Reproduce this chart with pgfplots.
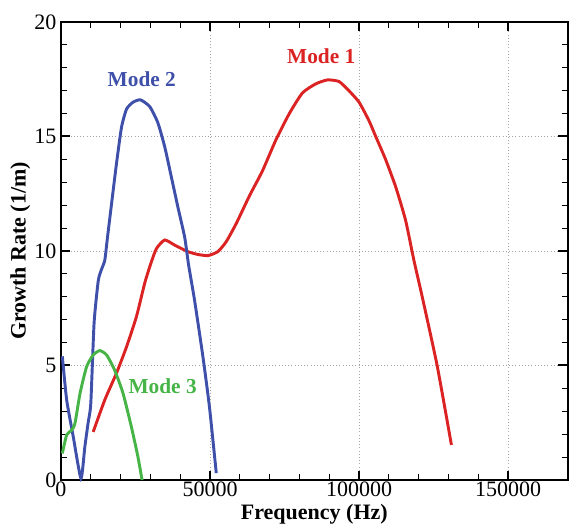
\documentclass[border=0pt]{standalone}
\usepackage{fontspec}
\setmainfont{Liberation Serif}
\usepackage{pgfplots}
\pgfplotsset{compat=1.18}
\definecolor{mred}{RGB}{220,35,35}
\definecolor{mblue}{RGB}{62,80,170}
\definecolor{mgreen}{RGB}{70,180,70}
\begin{document}
\begin{tikzpicture}
\begin{axis}[
  name=ax,
  at={(0,0)}, anchor=south west,
  scale only axis,
  width=380pt, height=343.5pt,
  xmin=0, xmax=170000, ymin=0, ymax=20,
  xtick={0,50000,100000,150000},
  xticklabels={0,50000,100000,150000},
  ytick={0,5,10,15,20},
  yticklabels={0,5,10,15,20},
  minor x tick num=4, minor y tick num=4,
  tick align=inside,
  major tick length=7pt, minor tick length=4.5pt,
  every major tick/.style={line width=1.5pt, black},
  every minor tick/.style={line width=0.6pt, black},
  axis line style={line width=1.5pt},
  grid=major,
  major grid style={gray!70, dotted, line width=0.6pt},
  scaled ticks=false,
  tick label style={font=\fontsize{16.5}{19}\selectfont},
  xticklabel style={yshift=2pt},
  xlabel={\textbf{Frequency (Hz)}},
  ylabel={\textbf{Growth Rate (1/m)}},
  label style={font=\fontsize{16.5}{19}\selectfont},
  xlabel style={at={(axis description cs:0.5,0)}, anchor=base, yshift=-29.5pt, inner sep=0pt},
  ylabel style={at={(axis description cs:-0.0803,0.5)}, anchor=center},
  clip=false,
]
\addplot[mred, line width=2.2pt, smooth, tension=0.35] coordinates {
(10800,2.1) (14700,3.5) (18600,4.66) (22000,5.82) (25300,7.13) (28100,8.6)
(30000,9.4) (32000,10.1) (34800,10.48) (38100,10.26) (42600,9.97) (45900,9.85)
(49300,9.8) (52600,9.97) (55400,10.4) (58800,11.2) (63200,12.4) (67600,13.5)
(72100,14.85) (76600,16.0) (81000,16.9) (85500,17.3) (89400,17.47) (93300,17.4)
(96600,17.0) (100000,16.5) (103300,15.7) (105600,15.0) (108900,14.0) (112300,12.8)
(115600,11.35) (118400,9.6) (121200,8.0) (126200,5.0) (131000,1.53)
};
\addplot[mblue, line width=2.2pt, smooth, tension=0.35] coordinates {
(450,5.4) (1900,3.5) (4100,1.9) (6700,0.07) (8000,1.45) (9100,2.5) (10000,3.35)
(11100,6.85) (12500,8.7) (13600,9.2) (14700,9.6) (15600,10.6) (17000,12.1)
(18600,13.8) (20300,15.4) (22000,16.2) (24200,16.5) (26700,16.6) (29800,16.3)
(32500,15.6) (34800,14.55) (37000,13.25) (39200,11.93) (41500,10.6) (42800,9.4)
(44800,7.86) (47600,5.4) (49800,3.2) (52100,0.3)
};
\addplot[mgreen, line width=2.2pt, smooth, tension=0.35] coordinates {
(450,1.16) (1900,1.97) (3600,2.18) (4700,2.48) (6400,3.79) (8600,4.95)
(10800,5.46) (13000,5.65) (15300,5.46) (18000,4.8) (20800,3.79) (23600,2.33)
(25800,1.02) (27200,0)
};
\node[mred, font=\fontsize{16}{18}\selectfont\bfseries] at (axis cs:87300,18.5) {Mode 1};
\node[mblue, font=\fontsize{16}{18}\selectfont\bfseries] at (axis cs:27100,17.5) {Mode 2};
\node[mgreen, font=\fontsize{16}{18}\selectfont\bfseries] at (axis cs:34100,4.1) {Mode 3};
\end{axis}
\pgfresetboundingbox
\path[use as bounding box] (-45.75pt,-33.75pt) rectangle (381pt,360pt);
\end{tikzpicture}
\end{document}
